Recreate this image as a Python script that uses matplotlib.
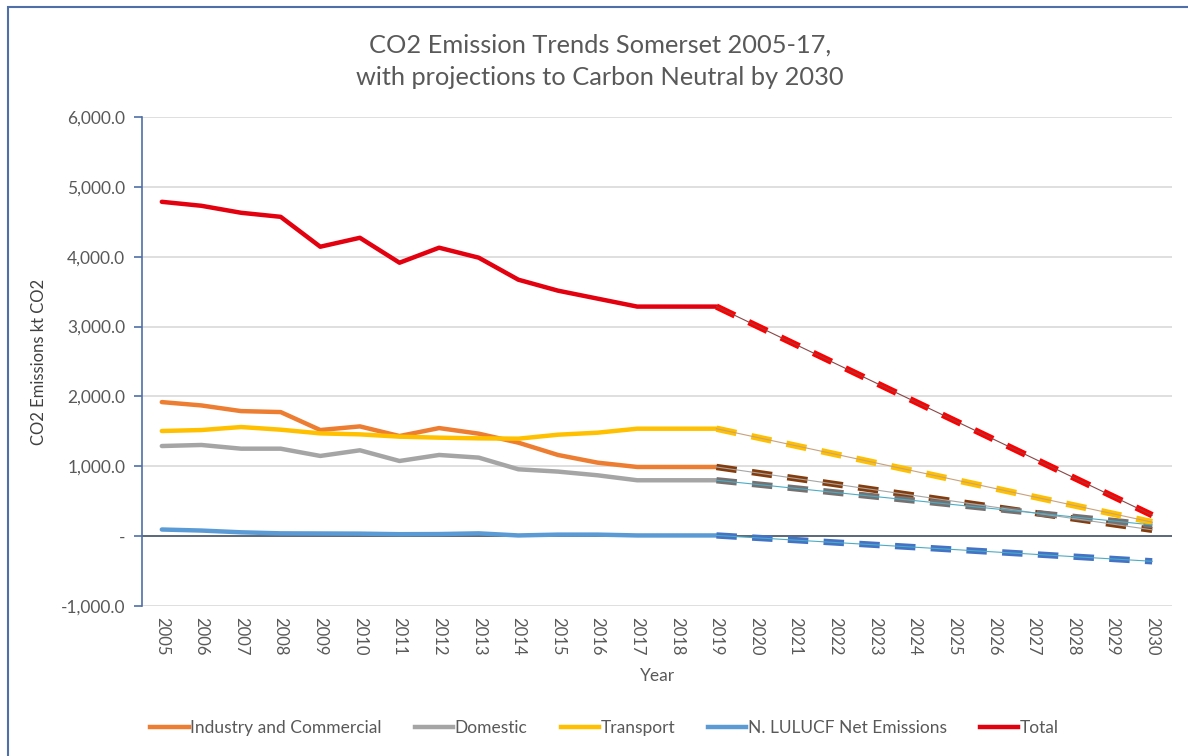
import matplotlib

matplotlib.use("Agg")
import matplotlib.pyplot as plt
from matplotlib.lines import Line2D
from matplotlib.patches import Rectangle
from matplotlib.ticker import FuncFormatter

plt.rcParams["font.family"] = ["Lato", "DejaVu Sans"]

years = list(range(2005, 2031))
hist_years = list(range(2005, 2020))
proj_years = [2019, 2030]

industry = [1919, 1871, 1790, 1776, 1519, 1571, 1433, 1547, 1467, 1338, 1162, 1052, 990, 990, 990]
domestic = [1290, 1305, 1252, 1252, 1148, 1229, 1076, 1162, 1124, 957, 924, 871, 800, 800, 800]
transport = [1505, 1519, 1562, 1524, 1471, 1457, 1424, 1410, 1400, 1395, 1452, 1481, 1538, 1538, 1538]
lulucf = [95, 80, 55, 40, 38, 36, 28, 30, 40, 10, 22, 22, 10, 10, 10]
total = [4786, 4729, 4629, 4571, 4143, 4271, 3914, 4129, 3986, 3671, 3514, 3400, 3286, 3286, 3286]

industry_proj = [990, 90]
domestic_proj = [800, 160]
transport_proj = [1538, 200]
lulucf_proj = [10, -360]
total_proj = [3286, 300]

series = [
    ("Industry and Commercial", industry, industry_proj, "#ED7D31", "#843C0C", "#A6A6A6"),
    ("Domestic", domestic, domestic_proj, "#A5A5A5", "#767171", "#4BACC6"),
    ("Transport", transport, transport_proj, "#FFC000", "#FFC000", "#C9A27A"),
    ("N. LULUCF Net Emissions", lulucf, lulucf_proj, "#5B9BD5", "#4472C4", "#4BACC6"),
    ("Total", total, total_proj, "#E3000F", "#FF0000", "#8B4545"),
]

fig = plt.figure(figsize=(11.88, 7.56), dpi=100)
fig.patches.append(Rectangle((8 / 1188, -0.01), 1.02, 1 - 7 / 756 + 0.01, transform=fig.transFigure,
                             fill=False, edgecolor="#4F6FA8", linewidth=1.5))
ax = fig.add_axes([142 / 1188, 1 - 606 / 756, (1172 - 142) / 1188, (606 - 117) / 756])

# solid history, thick dashed projection, thin trend line on top
idx = {y: i for i, y in enumerate(years)}
for name, hist, proj, color, pcolor, tcolor in series:
    ax.plot([idx[y] for y in hist_years], hist, color=color, linewidth=3.2, solid_capstyle="round", zorder=3)
    ax.plot([idx[y] for y in proj_years], proj, color=pcolor, linewidth=4.6, dashes=(3.2, 2.4), zorder=3)
    ax.plot([idx[y] for y in proj_years], proj, color=tcolor, linewidth=0.8, zorder=4)

ax.set_xlim(-0.5, len(years) - 0.5)
ax.set_ylim(-1000, 6000)
ax.set_yticks(range(-1000, 6001, 1000))
ax.yaxis.set_major_formatter(FuncFormatter(lambda v, p: "-" if v == 0 else f"{v:,.1f}"))
ax.set_xticks(range(len(years)))
ax.set_xticklabels([str(y) for y in years], rotation=-90)
ax.grid(axis="y", color="#D9D9D9", linewidth=1.2)
ax.axhline(0, color="#44546A", linewidth=1.2, zorder=2)
ax.set_axisbelow(True)
for side in ["top", "right", "bottom"]:
    ax.spines[side].set_visible(False)
ax.spines["left"].set_color("#4F6FA8")
ax.spines["left"].set_linewidth(1.2)
ax.tick_params(axis="y", colors="#4F6FA8", length=6, width=1.2, labelcolor="#595959", labelsize=12.5, pad=6)
ax.tick_params(axis="x", length=0, labelcolor="#595959", labelsize=12, pad=8)

ax.set_ylabel("CO2 Emissions kt CO2", fontsize=12, color="#404040", labelpad=10)
ax.set_xlabel("Year", fontsize=12.5, color="#595959", labelpad=9)
fig.text(0.505, 0.94, "CO2 Emission Trends Somerset 2005-17,", ha="center", va="center", fontsize=18.3, color="#595959")
fig.text(0.505, 0.898, "with projections to Carbon Neutral by 2030", ha="center", va="center", fontsize=18.3, color="#595959")

handles = [Line2D([0], [0], color=s[3], linewidth=3.2) for s in series]
fig.legend(handles, [s[0] for s in series], loc="center", bbox_to_anchor=(0.509, 0.037), ncol=5, frameon=False,
           fontsize=12.5, handlelength=2.2, handletextpad=0.1, columnspacing=1.9, labelcolor="#595959")

fig.savefig("out.png", dpi=100)
